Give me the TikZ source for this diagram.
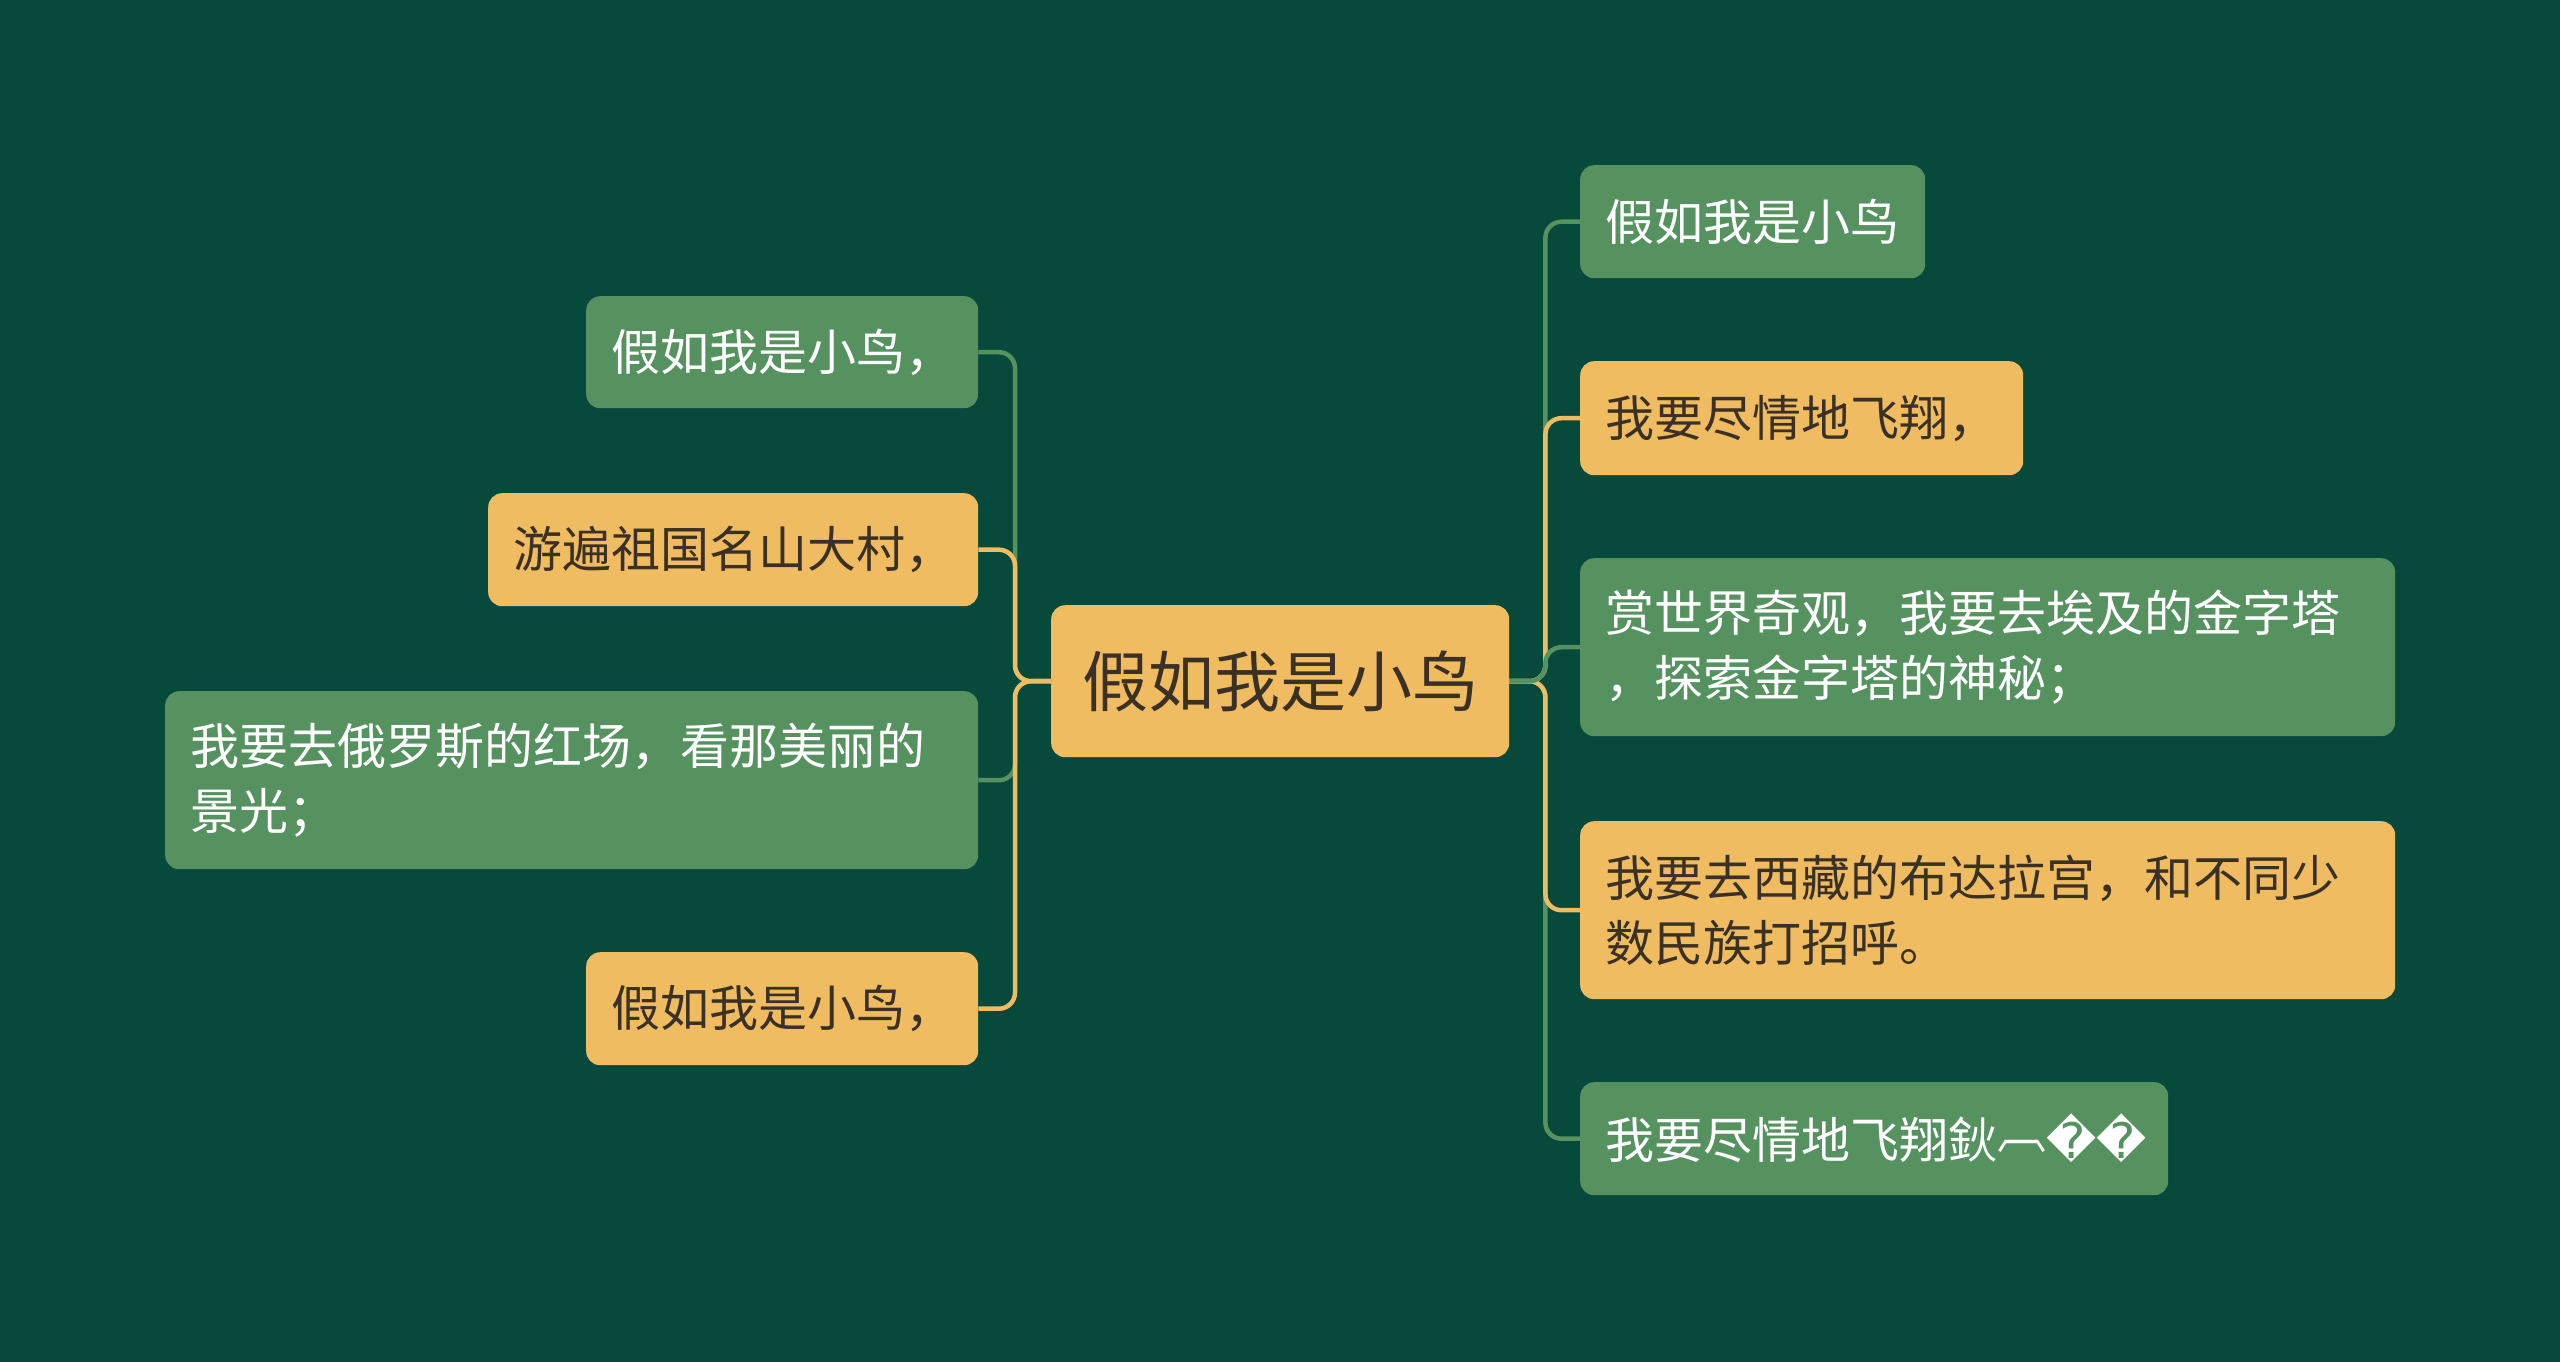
\documentclass[tikz,border=0pt]{standalone}
\usepackage{fontspec}
\setmainfont{Noto Sans CJK SC}
\newfontfamily\dejavu{DejaVu Sans}
\definecolor{bg}{HTML}{07493A}
\definecolor{gn}{HTML}{559260}
\definecolor{og}{HTML}{F0BC62}
\definecolor{dk}{HTML}{3A3024}
\tikzset{
  box/.style={rounded corners=14pt, anchor=north west, inner xsep=25pt, inner ysep=0pt, align=left, font=\fontsize{49}{65}\selectfont},
  gbox/.style={box, fill=gn, text=white},
  obox/.style={box, fill=og, text=dk},
  gline/.style={draw=gn, line width=4.5pt, rounded corners=16pt},
  oline/.style={draw=og, line width=4.5pt, rounded corners=16pt},
}
\begin{document}
\begin{tikzpicture}[x=1pt,y=-1pt]
\fill[bg] (0,0) rectangle (2560,1362);
\useasboundingbox (0,0) rectangle (2560,1362);

% center
\node[obox, font=\fontsize{66}{78}\selectfont, align=center, inner xsep=0pt, minimum width=458pt, minimum height=152pt] (C) at (1051,605) {假如我是小鸟};

% left children
\node[gbox, text width=342pt, minimum height=112pt] (L1) at (586,296) {假如我是小鸟，};
\node[obox, text width=440pt, minimum height=113pt] (L2) at (488,493) {游遍祖国名山大村，};
\node[gbox, text width=763pt, minimum height=178pt] (L3) at (165,691) {我要去俄罗斯的红场，看那美丽的\\景光；};
\node[obox, text width=342pt, minimum height=113pt] (L4) at (586,952) {假如我是小鸟，};

% right children
\node[gbox, text width=295pt, minimum height=113pt] (R1) at (1580,165) {假如我是小鸟};
\node[obox, text width=393pt, minimum height=114pt] (R2) at (1580,361) {我要尽情地飞翔，};
\node[gbox, text width=765pt, minimum height=178pt] (R3) at (1580,558) {赏世界奇观，我要去埃及的金字塔\\，探索金字塔的神秘；};
\node[obox, text width=765pt, minimum height=178pt] (R4) at (1580,821) {我要去西藏的布达拉宫，和不同少\\数民族打招呼。};
\node[gbox, text width=538pt, minimum height=113pt] (R5) at (1580,1082) {我要尽情地飞翔鈥\raisebox{10pt}{︹}{\dejavu ��}};

% connectors left
\draw[gline] (C.west) -- ++(-36,0) |- (L1.east);
\draw[gline] (C.west) -- ++(-36,0) |- (L3.east);
\draw[oline] (C.west) -- ++(-36,0) |- (L2.east);
\draw[oline] (C.west) -- ++(-36,0) |- (L4.east);

% connectors right
\draw[gline] (C.east) -- ++(36,0) |- (R1.west);
\draw[gline] (C.east) -- ++(36,0) |- (R5.west);
\draw[oline] (C.east) -- ++(36,0) |- (R2.west);
\draw[oline] (C.east) -- ++(36,0) |- (R4.west);
\draw[gline] (C.east) -- ++(36,0) |- (R3.west);
\end{tikzpicture}
\end{document}
